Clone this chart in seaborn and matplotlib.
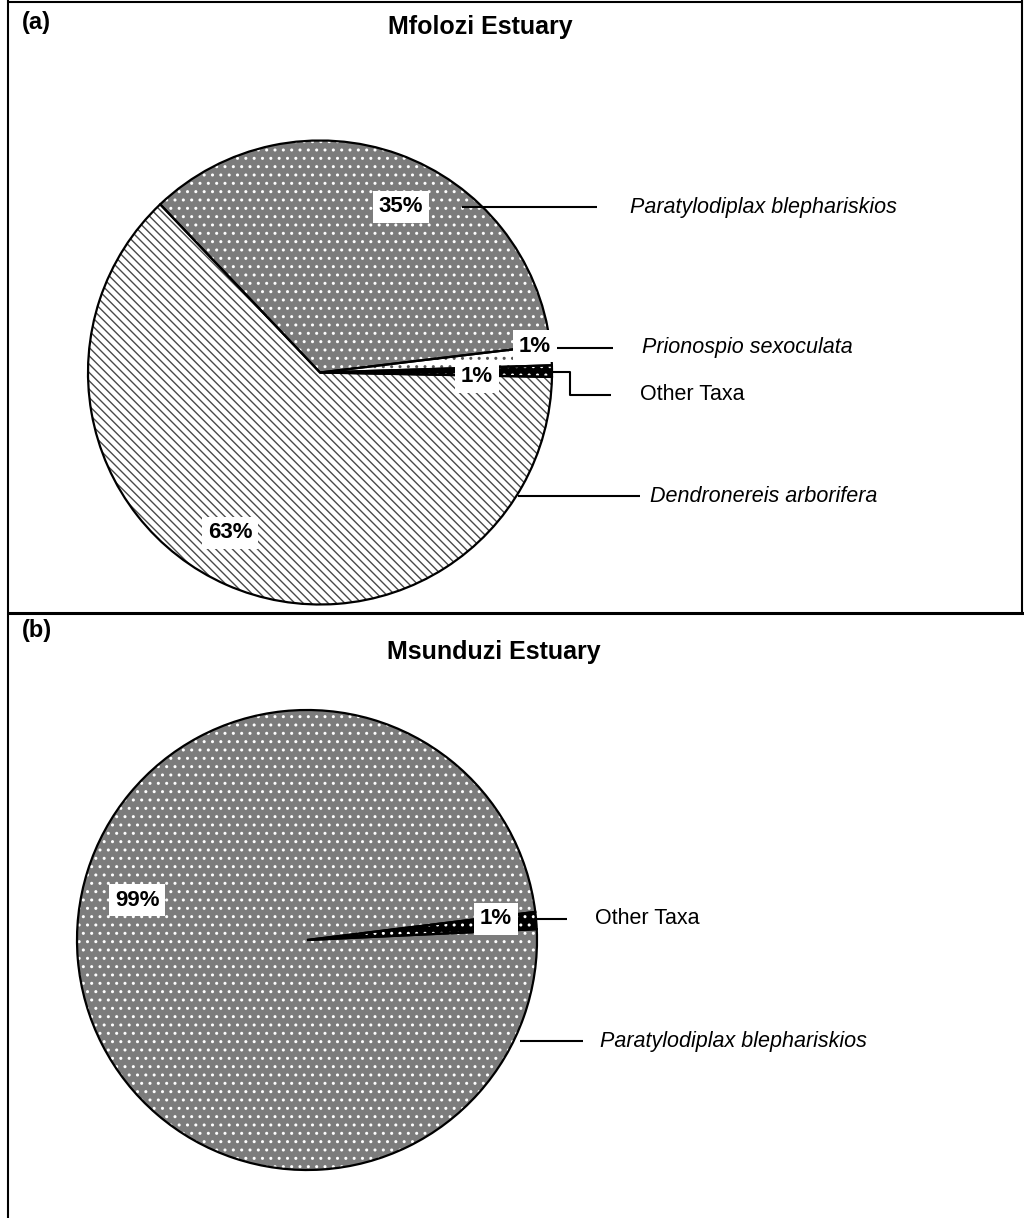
import matplotlib
matplotlib.use("Agg")
import matplotlib.pyplot as plt
import seaborn as sns

# ---------------- data ----------------
titles = ["Mfolozi Estuary", "Msunduzi Estuary"]
panel_tags = ["(a)", "(b)"]

# panel (a) slices, counter-clockwise from start angle
a_taxa = ["Other Taxa", "Prionospio sexoculata", "Paratylodiplax blephariskios", "Dendronereis arborifera"]
a_values = [0.8, 1.4, 35.2, 62.6]
a_italic = [False, True, True, True]

# panel (b) slices
b_taxa = ["Other Taxa", "Paratylodiplax blephariskios"]
b_values = [1.2, 98.8]
b_italic = [False, True]

# ---------------- style ----------------
sns.set_theme(style="white")
plt.rcParams['font.family'] = ['Liberation Sans', 'DejaVu Sans']
plt.rcParams['text.color'] = 'black'
plt.rcParams['hatch.linewidth'] = 1.0

W, H = 1024, 1218
fig = plt.figure(figsize=(W / 100, H / 100), dpi=100)
fig.patch.set_facecolor("white")

# pixel-coordinate overlay for frame and titles
bg = fig.add_axes([0, 0, 1, 1], zorder=0)
bg.set_xlim(0, W)
bg.set_ylim(H, 0)
bg.axis("off")

styles = {
    "Paratylodiplax blephariskios": dict(face="#7c7c7c", hatch="..", hcol="white"),
    "Dendronereis arborifera": dict(face="white", hatch="\\\\\\\\", hcol="#4a4a4a"),
    "Prionospio sexoculata": dict(face="white", hatch="..", hcol="#555555"),
    "Other Taxa": dict(face="black", hatch="..", hcol="white"),
}


def draw_pie(cx, cy, r, taxa, values, start):
    ax = fig.add_axes([(cx - r) / W, 1 - (cy + r) / H, 2 * r / W, 2 * r / H], zorder=2)
    faces = [styles[t]["face"] for t in taxa]
    wedges, _ = ax.pie(values, startangle=start, counterclock=True, radius=1,
                       colors=faces, wedgeprops=dict(linewidth=0))
    for w, t in zip(wedges, taxa):
        w.set_hatch(styles[t]["hatch"])
        w.set_edgecolor(styles[t]["hcol"])
        w.set_linewidth(0)
    ax.pie(values, startangle=start, counterclock=True, radius=1,
           wedgeprops=dict(fill=False, edgecolor="black", linewidth=1.6))
    ax.set_xlim(-1.0, 1.0)
    ax.set_ylim(-1.0, 1.0)
    ax.set_aspect("equal", adjustable="box")
    ax.axis("off")
    return ax


draw_pie(320, 372.5, 232, a_taxa, a_values, -1.1)
draw_pie(307, 940, 230, b_taxa, b_values, 2.7)

# overlay axes on top for labels and leaders
top = fig.add_axes([0, 0, 1, 1], zorder=5)
top.set_xlim(0, W)
top.set_ylim(H, 0)
top.axis("off")
top.patch.set_alpha(0)

# ---------------- frame ----------------
lw = 1.5
bg.plot([8, 1022], [1.5, 1.5], color="black", lw=lw)
bg.plot([8, 8], [0, H], color="black", lw=lw)
bg.plot([1022, 1022], [0, 613], color="black", lw=lw)
bg.plot([8, W], [613, 613], color="black", lw=2.2)

# ---------------- titles ----------------
bg.text(480, 27, titles[0], ha="center", va="center", fontsize=18, fontweight="bold")
bg.text(494, 652, titles[1], ha="center", va="center", fontsize=18, fontweight="bold")
bg.text(22, 22, panel_tags[0], ha="left", va="center", fontsize=17, fontweight="bold")
bg.text(22, 630, panel_tags[1], ha="left", va="center", fontsize=17, fontweight="bold")

box = dict(facecolor="white", edgecolor="none", pad=4)


def pct(v):
    return f"{round(v):d}%"


# ---------------- panel (a) annotations ----------------
a_pct_pos = [(477, 377), (535, 346), (401, 207), (230, 533)]
for v, (x, y) in zip(a_values, a_pct_pos):
    top.text(x, y, pct(v), ha="center", va="center", fontsize=16, fontweight="bold", bbox=box)

leader_kw = dict(color="black", lw=1.5, solid_capstyle="butt")
lab_fs = 15.5
# Other Taxa (elbow)
top.plot([553, 570, 570, 611], [372, 372, 395, 395], **leader_kw)
top.text(640, 395, a_taxa[0], ha="left", va="center", fontsize=lab_fs,
         fontstyle="italic" if a_italic[0] else "normal")
# Prionospio
top.plot([547, 613], [348, 348], **leader_kw)
top.text(642, 348, a_taxa[1], ha="left", va="center", fontsize=lab_fs,
         fontstyle="italic" if a_italic[1] else "normal")
# Paratylodiplax
top.plot([462, 597], [207, 207], **leader_kw)
top.text(630, 207, a_taxa[2], ha="left", va="center", fontsize=lab_fs,
         fontstyle="italic" if a_italic[2] else "normal")
# Dendronereis
top.plot([518, 640], [496, 496], **leader_kw)
top.text(650, 496, a_taxa[3], ha="left", va="center", fontsize=lab_fs,
         fontstyle="italic" if a_italic[3] else "normal")

# ---------------- panel (b) annotations ----------------
b_pct_pos = [(496, 919), (137, 900)]
for v, (x, y) in zip(b_values, b_pct_pos):
    top.text(x, y, pct(v), ha="center", va="center", fontsize=16, fontweight="bold", bbox=box)

top.plot([537, 567], [919, 919], **leader_kw)
top.text(595, 919, b_taxa[0], ha="left", va="center", fontsize=lab_fs,
         fontstyle="italic" if b_italic[0] else "normal")
top.plot([520, 583], [1041, 1041], **leader_kw)
top.text(600, 1041, b_taxa[1], ha="left", va="center", fontsize=lab_fs,
         fontstyle="italic" if b_italic[1] else "normal")

fig.savefig("out.png", dpi=100)
